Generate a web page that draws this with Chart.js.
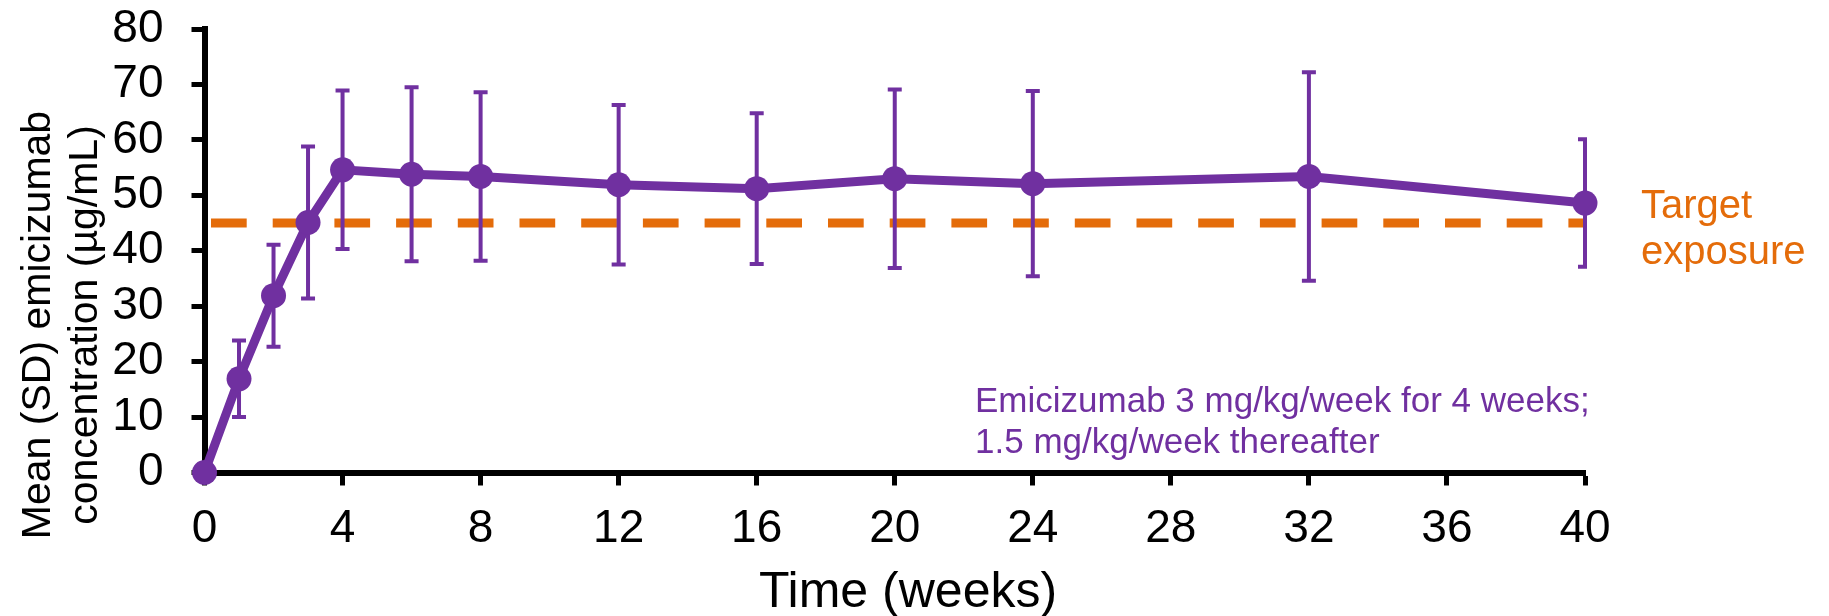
<!DOCTYPE html>
<html>
<head>
<meta charset="utf-8">
<script src="https://cdn.jsdelivr.net/npm/chart.js@4/dist/chart.umd.min.js"></script>
<style>
  html, body { margin: 0; padding: 0; background: #fff; }
  #wrap { width: 1829px; height: 616px; position: relative; }
</style>
</head>
<body>
<div id="wrap"><canvas id="chart"></canvas></div>
<script>
// values
const weeks = [0, 1, 2, 3, 4, 6, 8, 12, 16, 20, 24, 32, 40];
const meanConc = [0, 16.9, 31.9, 45.1, 54.6, 53.8, 53.4, 51.9, 51.2, 53.0, 52.1, 53.4, 48.6];
const sdConc = [0, 6.9, 9.2, 13.7, 14.3, 15.7, 15.2, 14.4, 13.6, 16.1, 16.7, 18.8, 11.5];
const targetExposure = 45;
const xTicks = [0, 4, 8, 12, 16, 20, 24, 28, 32, 36, 40];
const yTicks = [0, 10, 20, 30, 40, 50, 60, 70, 80];

const purple = '#7030A0';
const orange = '#E46C0A';
const fontFamily = '"Liberation Sans", Arial, sans-serif';

Chart.defaults.font.family = fontFamily;
Chart.defaults.color = '#000';

//error bars are drawn right before the mean line, so they sit over the dashed target line
const errorBars = {
    id: 'errorBars',
    beforeDatasetDraw(chart, args) {
        if (args.index !== 0) return;
        const ctx = chart.ctx;
        const x = chart.scales.x;
        const y = chart.scales.y;
        const area = chart.chartArea;
        ctx.save();
        // right side is cut at the plot edge like in the original
        ctx.beginPath();
        ctx.rect(0, 0, area.right + 2, chart.height);
        ctx.clip();
        ctx.strokeStyle = purple;
        ctx.lineWidth = 4;
        weeks.forEach((w, i) => {
            if (!sdConc[i]) return;
            const px = x.getPixelForValue(w);
            const top = y.getPixelForValue(meanConc[i] + sdConc[i]);
            const bot = y.getPixelForValue(meanConc[i] - sdConc[i]);
            ctx.beginPath();
            ctx.moveTo(px, top);
            ctx.lineTo(px, bot);
            ctx.moveTo(px - 7, top);
            ctx.lineTo(px + 7, top);
            ctx.moveTo(px - 7, bot);
            ctx.lineTo(px + 7, bot);
            ctx.stroke();
        });
        ctx.restore();
    }
};

//axis titles and the two text notes
const labels = {
    id: 'labels',
    afterDraw(chart) {
        const ctx = chart.ctx;
        ctx.save();
        ctx.textBaseline = 'alphabetic';

        // y title, two lines, rotated
        ctx.fillStyle = '#000';
        ctx.font = '41px ' + fontFamily;
        ctx.textAlign = 'center';
        [['Mean (SD) emicizumab', 50], ['concentration (\u00b5g/mL)', 97]].forEach(([t, bx]) => {
            ctx.save();
            ctx.translate(bx, 325);
            ctx.rotate(-Math.PI / 2);
            ctx.fillText(t, 0, 0);
            ctx.restore();
        });

        // x title
        ctx.font = '50px ' + fontFamily;
        ctx.fillText('Time (weeks)', 908, 607);

        // dosing note
        ctx.textAlign = 'left';
        ctx.fillStyle = purple;
        ctx.font = '35px ' + fontFamily;
        ctx.fillText('Emicizumab 3 mg/kg/week for 4 weeks;', 975, 412);
        ctx.fillText('1.5 mg/kg/week thereafter', 975, 453);

        // target label
        ctx.fillStyle = orange;
        ctx.font = '40px ' + fontFamily;
        ctx.fillText('Target', 1641, 218);
        ctx.fillText('exposure', 1641, 264);
        ctx.restore();
    }
};

const ctx = document.getElementById('chart').getContext('2d');
const myChart = new Chart(ctx, {
    type: 'line',
    data: {
        datasets: [{
            label: 'Emicizumab',
            data: weeks.map((w, i) => ({ x: w, y: meanConc[i] })),
            borderColor: purple,
            backgroundColor: purple,
            borderWidth: 9,
            pointRadius: 12.5,
            pointHoverRadius: 12.5,
            pointBorderWidth: 0,
            pointBackgroundColor: purple,
            tension: 0,
            clip: false,
            order: 0
        }, {
            label: 'Target exposure',
            data: [{ x: xTicks[0], y: targetExposure }, { x: xTicks[xTicks.length - 1], y: targetExposure }],
            borderColor: orange,
            borderWidth: 9,
            borderDash: [35.7, 26],
            borderDashOffset: 55.2,
            pointRadius: 0,
            clip: false,
            order: 1
        }]
    },
    options: {
        responsive: true,
        maintainAspectRatio: false,
        devicePixelRatio: 1,
        animation: false,
        layout: { padding: { left: 0, right: 244, top: 29, bottom: 0 } },
        plugins: {
            legend: { display: false },
            tooltip: { enabled: false }
        },
        scales: {
            x: {
                type: 'linear',
                min: 0,
                max: 40,
                afterFit: (scale) => { scale.height = 143.5; scale.paddingLeft = 0; scale.paddingRight = 0; },
                afterBuildTicks: (scale) => { scale.ticks = xTicks.map(v => ({ value: v })); },
                border: { color: '#000', width: 6 },
                grid: { drawOnChartArea: false, tickLength: 13, tickWidth: 5, tickColor: '#000' },
                ticks: { font: { size: 46 }, padding: 16, maxRotation: 0, autoSkip: false, color: '#000' }
            },
            y: {
                min: 0,
                max: 80,
                // labels overflow upward; keep the plot top where it is in the original
                afterFit: (scale) => { scale.width = 204.5; scale.paddingTop = 0; scale.paddingBottom = 0; },
                afterBuildTicks: (scale) => { scale.ticks = yTicks.map(v => ({ value: v })); },
                border: { color: '#000', width: 6 },
                grid: { drawOnChartArea: false, tickLength: 13, tickWidth: 5, tickColor: '#000' },
                ticks: { font: { size: 46 }, padding: 28, autoSkip: false, color: '#000' }
            }
        }
    },
    plugins: [errorBars, labels]
});
</script>
</body>
</html>
